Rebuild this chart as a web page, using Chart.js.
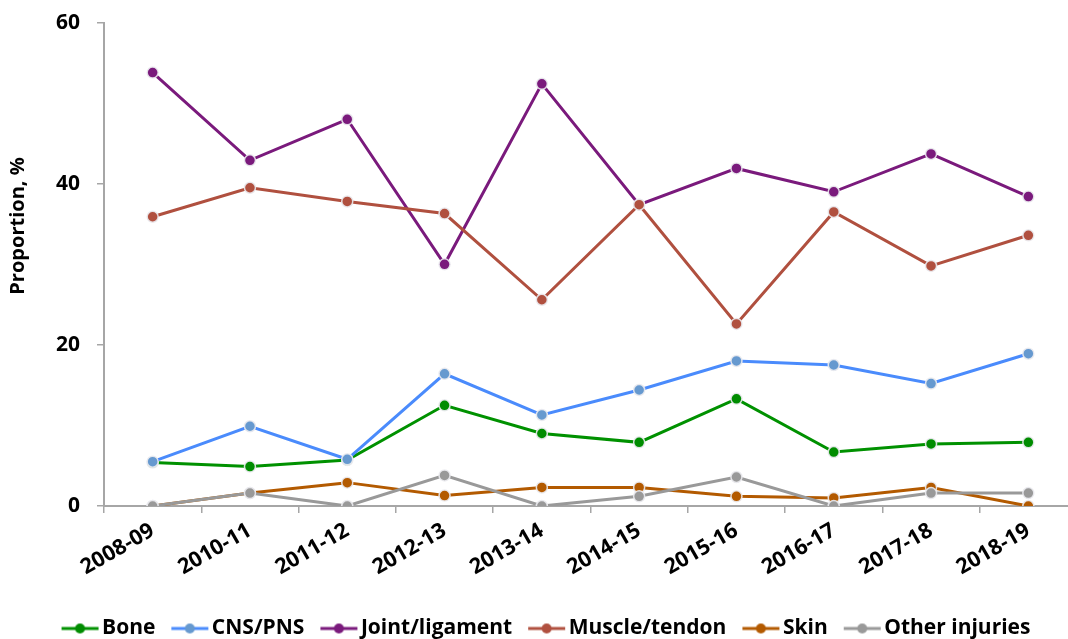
<!DOCTYPE html>
<html>
<head>
<meta charset="utf-8">
<script src="https://cdn.jsdelivr.net/npm/chart.js@4.4.1/dist/chart.umd.min.js"></script>
<style>
  html, body { margin: 0; padding: 0; background: #ffffff; }
  #wrap { width: 1068px; height: 639px; overflow: hidden; position: relative; }
  #chart { display: block; position: absolute; left: 0; top: -7px; }
</style>
</head>
<body>
<div id="wrap"><canvas id="chart" width="1090" height="670"></canvas></div>
<script>
// Seasons on the category axis
const seasons = ['2008-09', '2010-11', '2011-12', '2012-13', '2013-14', '2014-15', '2015-16', '2016-17', '2017-18', '2018-19'];

// Proportion of injuries (%) by tissue type
const bone          = [5.4, 4.9, 5.7, 12.5, 9.0, 7.9, 13.3, 6.7, 7.7, 7.9];
const cnsPns        = [5.5, 9.9, 5.8, 16.4, 11.3, 14.4, 18.0, 17.5, 15.2, 18.9];
const jointLigament = [53.8, 42.9, 48.0, 30.0, 52.4, 37.4, 41.9, 39.0, 43.7, 38.4];
const muscleTendon  = [35.9, 39.5, 37.8, 36.3, 25.6, 37.4, 22.6, 36.5, 29.8, 33.6];
const skin          = [0, 1.6, 2.9, 1.3, 2.3, 2.3, 1.2, 1.0, 2.3, 0];
const otherInjuries = [0, 1.6, 0, 3.8, 0, 1.2, 3.6, 0, 1.6, 1.6];

// Y axis tick values
const yTicks = [0, 20, 40, 60];

const FONT = '"Open Sans", Lato, "DejaVu Sans", sans-serif';

const seriesDefs = [
  { label: 'Bone',           data: bone,          line: '#009100', dot: '#008c00' },
  { label: 'CNS/PNS',        data: cnsPns,        line: '#4a8bfc', dot: '#6699cf' },
  { label: 'Joint/ligament', data: jointLigament, line: '#7a1a7c', dot: '#7a1a7c' },
  { label: 'Muscle/tendon',  data: muscleTendon,  line: '#b0503f', dot: '#b0503f' },
  { label: 'Skin',           data: skin,          line: '#b35a00', dot: '#b35a00' },
  { label: 'Other injuries', data: otherInjuries, line: '#999999', dot: '#999999' }
];

// Small "line - dot - line" glyph for the legend
function legendGlyph(lineColor, dotColor) {
  const c = document.createElement('canvas');
  c.width = 60; c.height = 14;
  const g = c.getContext('2d');
  g.strokeStyle = lineColor;
  g.lineWidth = 3;
  g.beginPath();
  g.moveTo(15, 7); g.lineTo(52, 7);
  g.stroke();
  g.fillStyle = dotColor;
  g.beginPath();
  g.arc(33.5, 7, 5, 0, Math.PI * 2);
  g.fill();
  return c;
}

const datasets = seriesDefs.map((s, i) => ({
  label: s.label,
  data: s.data,
  borderColor: s.line,
  backgroundColor: s.dot,
  borderWidth: 3,
  pointRadius: 5.5,
  pointHoverRadius: 5.5,
  pointBackgroundColor: s.dot,
  pointBorderColor: 'rgba(235,235,240,0.9)',
  pointBorderWidth: 1.5,
  tension: 0,
  order: seriesDefs.length - i,
  glyph: legendGlyph(s.line, s.dot)
}));

// Rotated y-axis title (canvas is shifted up 7px inside its frame)
const yTitlePlugin = {
  id: 'yTitle',
  afterDraw(chart) {
    const ctx = chart.ctx;
    ctx.save();
    ctx.translate(18, 233);
    ctx.rotate(-Math.PI / 2);
    ctx.font = 'bold 20px ' + FONT;
    ctx.fillStyle = '#000000';
    ctx.textAlign = 'center';
    ctx.textBaseline = 'middle';
    ctx.fillText('Proportion, %', 0, 0);
    ctx.restore();
  }
};

new Chart(document.getElementById('chart'), {
  type: 'line',
  data: { labels: seasons, datasets: datasets },
  plugins: [yTitlePlugin],
  options: {
    responsive: false,
    animation: false,
    events: [],
    layout: { padding: { top: 16, right: 13, bottom: 14, left: 15 } },
    scales: {
      x: {
        type: 'category',
        offset: true,
        afterFit(scale) { scale.height = 96; },
        grid: {
          offset: true,
          drawOnChartArea: false,
          drawTicks: true,
          tickLength: 7,
          color: '#a6a6a6',
          lineWidth: 1.5
        },
        border: { display: true, color: '#a6a6a6', width: 2 },
        ticks: {
          minRotation: 30,
          maxRotation: 30,
          autoSkip: false,
          padding: 5,
          color: '#000000',
          font: { family: FONT, size: 21.5, weight: 'bold' }
        }
      },
      y: {
        min: 0,
        max: 60,
        afterFit(scale) { scale.width = 89; },
        afterBuildTicks(scale) { scale.ticks = yTicks.map(v => ({ value: v })); },
        grid: {
          drawOnChartArea: false,
          drawTicks: true,
          tickLength: 7,
          color: '#a6a6a6',
          lineWidth: 1.5
        },
        border: { display: true, color: '#a6a6a6', width: 2 },
        ticks: {
          padding: 17,
          color: '#000000',
          font: { family: FONT, size: 21, weight: 'bold' }
        }
      }
    },
    plugins: {
      tooltip: { enabled: false },
      legend: {
        position: 'bottom',
        labels: {
          usePointStyle: true,
          pointStyleWidth: 30,
          padding: 16,
          color: '#000000',
          font: { family: FONT, size: 21, weight: 'bold' },
          generateLabels(chart) {
            return chart.data.datasets.map((ds, i) => ({
              text: ds.label,
              pointStyle: ds.glyph,
              fillStyle: ds.backgroundColor,
              strokeStyle: ds.borderColor,
              lineWidth: 0,
              hidden: false,
              datasetIndex: i,
              fontColor: '#000000'
            }));
          }
        }
      }
    }
  }
});
</script>
</body>
</html>
